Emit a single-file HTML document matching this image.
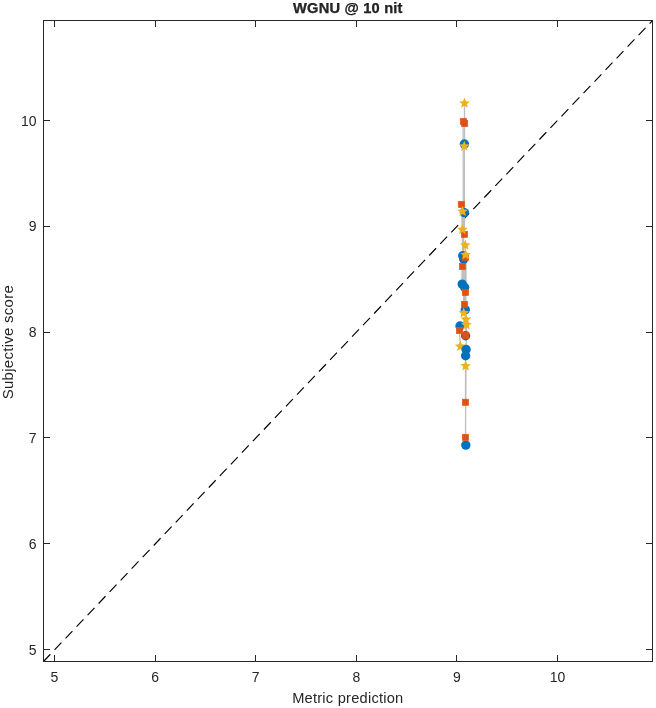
<!DOCTYPE html>
<html lang="en"><head><meta charset="utf-8"><title>WGNU @ 10 nit</title>
<style>html,body{margin:0;padding:0;background:#fff}svg{display:block;will-change:transform;transform:translateZ(0)}text{font-family:"Liberation Sans",Arial,Helvetica,sans-serif;fill:#262626}</style></head><body>
<svg width="656" height="708" viewBox="0 0 656 708">
<rect width="656" height="708" fill="#fff"/>
<line x1="43.5" y1="661.5" x2="652.5" y2="20.5" stroke="#000" stroke-width="1.15" stroke-dasharray="10 6"/>
<g fill="none" stroke="#bfbfbf" stroke-width="1.35" stroke-linejoin="round">
<polyline points="464.5,103.2 464.6,123.5 464.4,144.0"/>
<polyline points="463.1,121.4 463.3,200.0 463.7,259.1 463.7,313.0"/>
<polyline points="464.3,146.3 464.4,212.6 464.5,234.4"/>
<polyline points="461.4,204.5 462.4,229.6 462.8,255.7"/>
<polyline points="462.6,211.5 462.5,266.5 462.2,284.1"/>
<polyline points="465.3,245.2 465.5,257.3 464.6,287.3"/>
<polyline points="465.6,254.8 465.5,292.4 465.3,309.7"/>
<polyline points="464.5,304.5 466.4,325.0 466.1,349.5"/>
<polyline points="465.9,319.4 465.6,335.4 465.6,335.8"/>
<polyline points="460.0,326.0 459.5,330.5 460.3,346.4"/>
<polyline points="465.6,355.7 465.6,366.0 465.5,402.3"/>
<polyline points="465.9,366.0 465.5,437.4 465.8,445.1"/>
</g>
<g fill="none" stroke="#d6d6d6" stroke-width="1.2">
<line x1="461.3" y1="266" x2="461.3" y2="283"/>
<line x1="466.4" y1="262" x2="466.4" y2="292"/>
<line x1="466.3" y1="294" x2="466.3" y2="303"/>
</g><g fill="none" stroke="#b8b8b8" stroke-width="1.3">
<line x1="464.7" y1="292" x2="464.7" y2="304"/>
<line x1="465.2" y1="262" x2="465.2" y2="290"/>
</g>
<path fill="#edb120" d="M460.30,340.80 L461.78,344.36 L465.63,344.67 L462.70,347.18 L463.59,350.93 L460.30,348.92 L457.01,350.93 L457.90,347.18 L454.97,344.67 L458.82,344.36Z"/>
<g fill="#0072bd">
<circle cx="464.4" cy="144.0" r="4.7"/>
<circle cx="464.4" cy="212.6" r="4.7"/>
<circle cx="462.8" cy="255.7" r="4.7"/>
<circle cx="463.7" cy="259.1" r="4.7"/>
<circle cx="462.2" cy="284.1" r="4.7"/>
<circle cx="464.6" cy="287.3" r="4.7"/>
<circle cx="465.3" cy="309.7" r="4.7"/>
<circle cx="460.0" cy="326.0" r="4.7"/>
<circle cx="465.6" cy="335.8" r="4.7"/>
<circle cx="466.1" cy="349.5" r="4.7"/>
<circle cx="465.6" cy="355.7" r="4.7"/>
<circle cx="465.8" cy="445.1" r="4.7"/>
</g><g fill="#d95319" stroke="#ea5412" stroke-width="0.6">
<rect x="460.25" y="118.25" width="6.30" height="6.30"/>
<rect x="461.45" y="120.35" width="6.30" height="6.30"/>
<rect x="458.25" y="201.35" width="6.30" height="6.30"/>
<rect x="461.35" y="231.25" width="6.30" height="6.30"/>
<rect x="462.35" y="254.15" width="6.30" height="6.30"/>
<rect x="459.35" y="263.35" width="6.30" height="6.30"/>
<rect x="462.35" y="289.25" width="6.30" height="6.30"/>
<rect x="461.35" y="301.35" width="6.30" height="6.30"/>
<rect x="456.35" y="327.35" width="6.30" height="6.30"/>
<rect x="462.45" y="332.25" width="6.30" height="6.30"/>
<rect x="462.35" y="399.15" width="6.30" height="6.30"/>
<rect x="462.35" y="434.25" width="6.30" height="6.30"/>
</g><g fill="#edb120">
<path d="M464.50,97.60 L465.98,101.16 L469.83,101.47 L466.90,103.98 L467.79,107.73 L464.50,105.72 L461.21,107.73 L462.10,103.98 L459.17,101.47 L463.02,101.16Z"/>
<path d="M464.30,140.70 L465.78,144.26 L469.63,144.57 L466.70,147.08 L467.59,150.83 L464.30,148.82 L461.01,150.83 L461.90,147.08 L458.97,144.57 L462.82,144.26Z"/>
<path d="M462.60,205.90 L464.08,209.46 L467.93,209.77 L465.00,212.28 L465.89,216.03 L462.60,214.02 L459.31,216.03 L460.20,212.28 L457.27,209.77 L461.12,209.46Z"/>
<path d="M462.40,224.00 L463.88,227.56 L467.73,227.87 L464.80,230.38 L465.69,234.13 L462.40,232.12 L459.11,234.13 L460.00,230.38 L457.07,227.87 L460.92,227.56Z"/>
<path d="M465.30,239.60 L466.78,243.16 L470.63,243.47 L467.70,245.98 L468.59,249.73 L465.30,247.72 L462.01,249.73 L462.90,245.98 L459.97,243.47 L463.82,243.16Z"/>
<path d="M465.60,249.20 L467.08,252.76 L470.93,253.07 L468.00,255.58 L468.89,259.33 L465.60,257.32 L462.31,259.33 L463.20,255.58 L460.27,253.07 L464.12,252.76Z"/>
<path d="M463.70,307.40 L465.18,310.96 L469.03,311.27 L466.10,313.78 L466.99,317.53 L463.70,315.52 L460.41,317.53 L461.30,313.78 L458.37,311.27 L462.22,310.96Z"/>
<path d="M465.90,313.80 L467.38,317.36 L471.23,317.67 L468.30,320.18 L469.19,323.93 L465.90,321.92 L462.61,323.93 L463.50,320.18 L460.57,317.67 L464.42,317.36Z"/>
<path d="M466.40,319.40 L467.88,322.96 L471.73,323.27 L468.80,325.78 L469.69,329.53 L466.40,327.52 L463.11,329.53 L464.00,325.78 L461.07,323.27 L464.92,322.96Z"/>
<path d="M465.60,360.40 L467.08,363.96 L470.93,364.27 L468.00,366.78 L468.89,370.53 L465.60,368.52 L462.31,370.53 L463.20,366.78 L460.27,364.27 L464.12,363.96Z"/>
</g>
<g stroke="#262626" stroke-width="1" fill="none" shape-rendering="crispEdges">
<rect x="43.5" y="20.5" width="609.0" height="641.0"/>
<line x1="54.5" y1="661.5" x2="54.5" y2="655.0"/><line x1="54.5" y1="20.5" x2="54.5" y2="27.0"/>
<line x1="155.5" y1="661.5" x2="155.5" y2="655.0"/><line x1="155.5" y1="20.5" x2="155.5" y2="27.0"/>
<line x1="255.5" y1="661.5" x2="255.5" y2="655.0"/><line x1="255.5" y1="20.5" x2="255.5" y2="27.0"/>
<line x1="356.5" y1="661.5" x2="356.5" y2="655.0"/><line x1="356.5" y1="20.5" x2="356.5" y2="27.0"/>
<line x1="456.5" y1="661.5" x2="456.5" y2="655.0"/><line x1="456.5" y1="20.5" x2="456.5" y2="27.0"/>
<line x1="557.5" y1="661.5" x2="557.5" y2="655.0"/><line x1="557.5" y1="20.5" x2="557.5" y2="27.0"/>
<line x1="43.5" y1="649.5" x2="50.0" y2="649.5"/><line x1="652.5" y1="649.5" x2="646.0" y2="649.5"/>
<line x1="43.5" y1="543.5" x2="50.0" y2="543.5"/><line x1="652.5" y1="543.5" x2="646.0" y2="543.5"/>
<line x1="43.5" y1="437.5" x2="50.0" y2="437.5"/><line x1="652.5" y1="437.5" x2="646.0" y2="437.5"/>
<line x1="43.5" y1="332.5" x2="50.0" y2="332.5"/><line x1="652.5" y1="332.5" x2="646.0" y2="332.5"/>
<line x1="43.5" y1="226.5" x2="50.0" y2="226.5"/><line x1="652.5" y1="226.5" x2="646.0" y2="226.5"/>
<line x1="43.5" y1="120.5" x2="50.0" y2="120.5"/><line x1="652.5" y1="120.5" x2="646.0" y2="120.5"/>
</g>
<g font-size="14" text-anchor="middle">
<text x="54.5" y="682">5</text>
<text x="155.1" y="682">6</text>
<text x="255.7" y="682">7</text>
<text x="356.3" y="682">8</text>
<text x="456.9" y="682">9</text>
<text x="557.5" y="682">10</text>
</g><g font-size="14" text-anchor="end">
<text x="36.6" y="654.5">5</text>
<text x="36.6" y="548.7">6</text>
<text x="36.6" y="442.9">7</text>
<text x="36.6" y="337.1">8</text>
<text x="36.6" y="231.3">9</text>
<text x="36.6" y="125.5">10</text>
</g>
<text x="347.8" y="703" font-size="14.67" letter-spacing="0.225" text-anchor="middle">Metric prediction</text>
<text transform="translate(13.3,342.1) rotate(-90)" font-size="15" letter-spacing="0.27" text-anchor="middle">Subjective score</text>
<text x="347.9" y="12.8" font-size="14.67" letter-spacing="0.19" font-weight="bold" text-anchor="middle" fill="#000" stroke="#000" stroke-width="0.25">WGNU @ 10 nit</text>
</svg></body></html>
